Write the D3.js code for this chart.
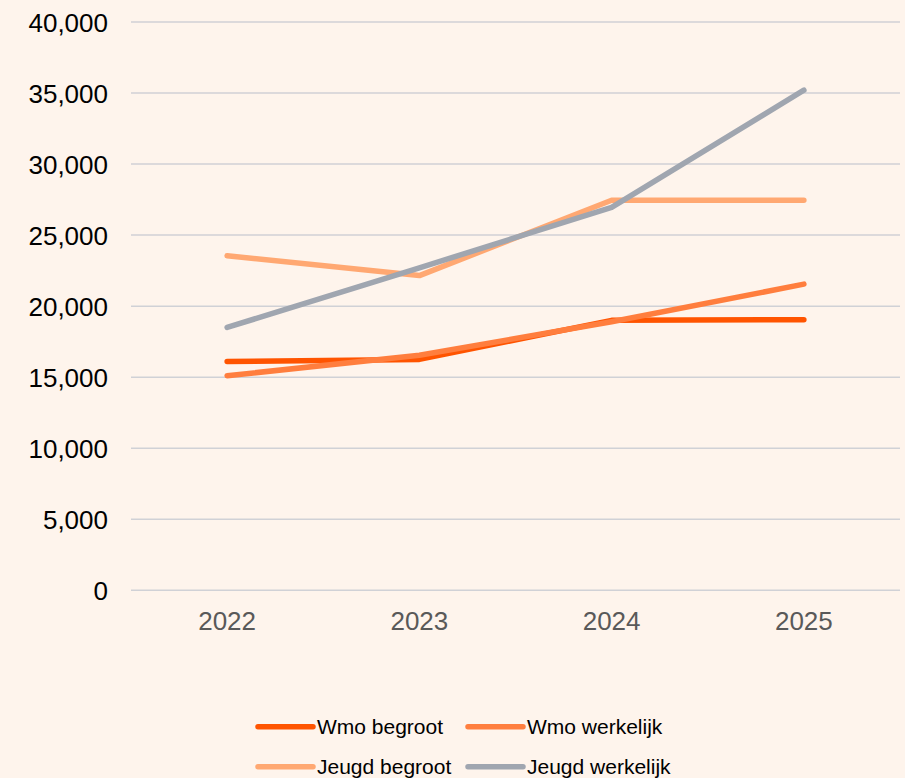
<!DOCTYPE html>
<html>
<head>
<meta charset="utf-8">
<script src="https://cdn.jsdelivr.net/npm/d3@7"></script>
<style>
  html, body { margin: 0; padding: 0; background: #fef4ec; }
  svg { display: block; font-family: "Liberation Sans", Arial, sans-serif; }
</style>
</head>
<body>
<div id="chart"></div>
<script>
const years = ['2022', '2023', '2024', '2025'];
const wmoBegroot = [16100, 16250, 19000, 19050];
const wmoWerkelijk = [15100, 16550, 18900, 21550];
const jeugdBegroot = [23550, 22150, 27450, 27450];
const jeugdWerkelijk = [18500, 22700, 26950, 35200];
const yTicks = [0, 5000, 10000, 15000, 20000, 25000, 30000, 35000, 40000];

const series = [
  { name: 'Wmo begroot', values: wmoBegroot, color: '#ff5400' },
  { name: 'Wmo werkelijk', values: wmoWerkelijk, color: '#ff7e3e' },
  { name: 'Jeugd begroot', values: jeugdBegroot, color: '#ffa872' },
  { name: 'Jeugd werkelijk', values: jeugdWerkelijk, color: '#a0a6b0' }
];

const width = 905, height = 778;
const svg = d3.select('#chart').append('svg')
  .attr('width', width)
  .attr('height', height);

svg.append('rect').attr('width', width).attr('height', height).attr('fill', '#fef4ec');

const x = d3.scaleBand().domain(years).range([131, 900]);
const y = d3.scaleLinear().domain([0, 40000]).range([590.3, 22]);

// gridlines
svg.append('g')
  .selectAll('line')
  .data(yTicks)
  .join('line')
  .attr('x1', 131).attr('x2', 900)
  .attr('y1', d => y(d)).attr('y2', d => y(d))
  .attr('stroke', '#d0d1d6')
  .attr('stroke-width', 1.5);

// y labels
svg.append('g')
  .selectAll('text')
  .data(yTicks)
  .join('text')
  .attr('x', 108)
  .attr('y', d => y(d) + 9.5)
  .attr('text-anchor', 'end')
  .attr('font-size', 26)
  .attr('fill', '#000')
  .text(d => d3.format(',')(d));

// x labels
svg.append('g')
  .selectAll('text')
  .data(years)
  .join('text')
  .attr('x', d => x(d) + x.bandwidth() / 2)
  .attr('y', 630)
  .attr('text-anchor', 'middle')
  .attr('font-size', 26)
  .attr('fill', '#595959')
  .text(d => d);

const line = d3.line()
  .x((d, i) => x(years[i]) + x.bandwidth() / 2)
  .y(d => y(d));

svg.append('g')
  .selectAll('path')
  .data(series)
  .join('path')
  .attr('d', d => line(d.values))
  .attr('fill', 'none')
  .attr('stroke', d => d.color)
  .attr('stroke-width', 5.5)
  .attr('stroke-linecap', 'round')
  .attr('stroke-linejoin', 'round');

// legend
const legendPos = [[258, 726.7], [468, 726.7], [258, 766.7], [468, 766.7]];
const legend = svg.append('g')
  .selectAll('g')
  .data(series)
  .join('g')
  .attr('transform', (d, i) => `translate(${legendPos[i][0]},${legendPos[i][1]})`);

legend.append('line')
  .attr('x1', 0).attr('x2', 55)
  .attr('stroke', d => d.color)
  .attr('stroke-width', 5.5)
  .attr('stroke-linecap', 'round');

legend.append('text')
  .attr('x', 59)
  .attr('y', 7.5)
  .attr('font-size', 21)
  .attr('fill', '#000')
  .text(d => d.name);
</script>
</body>
</html>
